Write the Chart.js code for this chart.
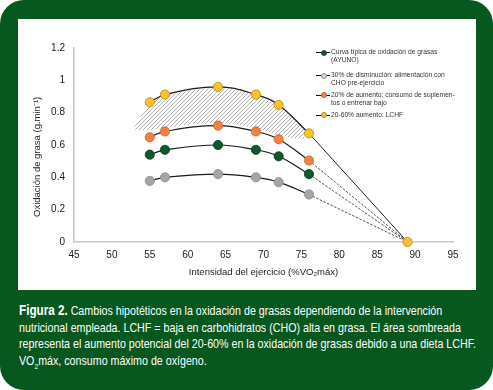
<!DOCTYPE html>
<html>
<head>
<meta charset="utf-8">
<script src="https://cdn.jsdelivr.net/npm/chart.js@4.4.0/dist/chart.umd.min.js"></script>
<style>
html, body { margin: 0; background: #fff; overflow: hidden; width: 493px; height: 390px; }
#frame { position: absolute; left: 0; top: 0; width: 493px; height: 390px; background: #06581f; border-radius: 24px; }
#panel { position: absolute; left: 18px; top: 19px; width: 458px; height: 271px; background: #fff; }
#panel canvas { position: absolute; left: 0; top: 0; }
.item { position: absolute; left: 313px; font: 6.7px "Liberation Sans", Arial, sans-serif; color: #333; line-height: 8.3px; white-space: nowrap; }
.mk { position: absolute; left: 298px; width: 14px; height: 1.3px; background: #111; }
.mk span { position: absolute; left: 4.5px; top: -2.2px; width: 4px; height: 4px; border-radius: 50%; border: 0.6px solid #444; }
#caption { position: absolute; left: 19px; top: 302px; color: #fff; font: 12.8px "Liberation Sans", sans-serif; line-height: 16.5px; white-space: nowrap; transform-origin: 0 0; }
#caption b { font-size: 14px; }
</style>
</head>
<body>
<div id="frame"></div>
<div id="panel">
  <canvas id="myChart" width="458" height="271"></canvas>
  <div class="mk" style="top:33px"><span style="background:#0b5a2a"></span></div>
  <div class="item" style="top:29px">Curva típica de oxidación de grasas<br>(AYUNO)</div>
  <div class="mk" style="top:56px"><span style="background:#d9d9d9;border-color:#888"></span></div>
  <div class="item" style="top:52px">30% de disminución: alimentación con<br>CHO pre-ejercicio</div>
  <div class="mk" style="top:75.5px"><span style="background:#f5813f;border-color:#c8612a"></span></div>
  <div class="item" style="top:71.5px">20% de aumento: consumo de suplemen-<br>tos o entrenar bajo</div>
  <div class="mk" style="top:95.5px"><span style="background:#fdc12e;border-color:#b88a10"></span></div>
  <div class="item" style="top:91.5px">20-60% aumento: LCHF</div>
</div>
<div id="caption">
  <div><b>Figura 2.</b> Cambios hipotéticos en la oxidación de grasas dependiendo de la intervención</div>
  <div>nutricional empleada. LCHF = baja en carbohidratos (CHO) alta en grasa. El área sombreada</div>
  <div id="cap3">representa el aumento potencial del 20-60% en la oxidación de grasas debido a una dieta LCHF.</div>
  <div>VO<sub style="font-size:8px;line-height:0">2</sub>máx, consumo máximo de oxígeno.</div>
</div>
<script>
// intensidad (%VO2max) de cada medida
const xVals = [55, 57, 64, 69, 72, 76];
const ayuno = [0.54, 0.57, 0.60, 0.57, 0.53, 0.42];
const choPre = [0.378, 0.40, 0.42, 0.40, 0.37, 0.294];
const suplementos = [0.648, 0.684, 0.72, 0.684, 0.636, 0.504];
const lchf = [0.864, 0.912, 0.96, 0.912, 0.848, 0.672];
const endX = 89, endY = 0;

// zona sombreada
const hatchX = [52.8, 55, 57, 64, 69, 72, 75.4];
const hatchTop = [0.70, 0.855, 0.905, 0.952, 0.905, 0.84, 0.715];
const hatchBottom = [0.695, 0.692, 0.707, 0.737, 0.705, 0.66, 0.635];

// letra estrecha: se comprime el pie para que la linea 3 mida ~457px
const cap = document.getElementById('caption');
const w3 = document.getElementById('cap3').getBoundingClientRect().width;
cap.style.transform = 'scaleX(' + (457 / w3).toFixed(4) + ')';

const pts = (xs, ys) => xs.map((x, i) => ({ x: x, y: ys[i] }));
const tail = ys => [{ x: xVals[xVals.length - 1], y: ys[ys.length - 1] }, { x: endX, y: endY }];

function makeHatch() {
    const c = document.createElement('canvas');
    c.width = 4; c.height = 4;
    const g = c.getContext('2d');
    g.strokeStyle = '#9a9a9a';
    g.lineWidth = 0.8;
    g.beginPath();
    g.moveTo(0, 4); g.lineTo(4, 0);
    g.moveTo(-1, 1); g.lineTo(1, -1);
    g.moveTo(3, 5); g.lineTo(5, 3);
    g.stroke();
    return g.createPattern(c, 'repeat');
}

function serie(data, fill, border) {
    return {
        data: data, borderColor: '#1a1a1a', borderWidth: 1.2, tension: 0.4,
        pointRadius: 4.6, pointBackgroundColor: fill, pointBorderColor: border, pointBorderWidth: 0.8
    };
}
function guide(data, dashed) {
    return { data: data, borderColor: '#222', borderWidth: dashed ? 0.8 : 1, borderDash: dashed ? [2.5, 1.5] : [], pointRadius: 0, tension: 0 };
}

const tickFont = { family: 'Liberation Sans', size: 10 };

const ctx = document.getElementById('myChart').getContext('2d');
const chart = new Chart(ctx, {
    type: 'line',
    data: {
        datasets: [
            { data: [{ x: endX, y: endY }], pointRadius: 4.6, pointBackgroundColor: '#fdc12e', pointBorderColor: '#b88a10', pointBorderWidth: 0.8, showLine: false, clip: false },
            serie(pts(xVals, lchf), '#fdc12e', '#b88a10'),
            serie(pts(xVals, suplementos), '#f5813f', '#c8612a'),
            serie(pts(xVals, ayuno), '#0b5a2a', '#063d1c'),
            serie(pts(xVals, choPre), '#a6a6a6', '#8a8a8a'),
            guide(tail(lchf), false),
            guide(tail(suplementos), true),
            guide(tail(ayuno), true),
            guide(tail(choPre), true),
            { data: pts(hatchX, hatchBottom), borderWidth: 0, pointRadius: 0, tension: 0.3, fill: false },
            { data: pts(hatchX, hatchTop), borderWidth: 0, pointRadius: 0, tension: 0.3, fill: '-1', backgroundColor: makeHatch() }
        ]
    },
    options: {
        responsive: false,
        animation: false,
        layout: { padding: { top: 29, right: 23, left: 0, bottom: 0 } },
        plugins: { legend: { display: false }, tooltip: { enabled: false } },
        scales: {
            x: {
                type: 'linear', min: 45, max: 95,
                ticks: { stepSize: 5, color: '#1a1a1a', padding: 7, font: tickFont },
                grid: { display: false, drawTicks: false },
                border: { color: '#c8c8c8', width: 1.5 },
                title: { display: true, text: 'Intensidad del ejercicio (%VO₂máx)', color: '#222', padding: { top: 4, bottom: 12 }, font: { family: 'Liberation Sans', size: 9.5 } },
                afterFit: s => { s.height = 48; }
            },
            y: {
                min: 0, max: 1.2,
                ticks: { stepSize: 0.2, color: '#1a1a1a', padding: 9, font: tickFont, callback: v => String(+v.toFixed(1)) },
                grid: { display: false, drawTicks: false },
                border: { color: '#c8c8c8', width: 1.5 },
                title: { display: true, text: 'Oxidación de grasa (g.min⁻¹)         ', color: '#222', padding: { top: 14, bottom: 0 }, font: { family: 'Liberation Sans', size: 9.5 } },
                afterFit: s => { s.width = 56; }
            }
        }
    }
});
</script>
</body>
</html>
